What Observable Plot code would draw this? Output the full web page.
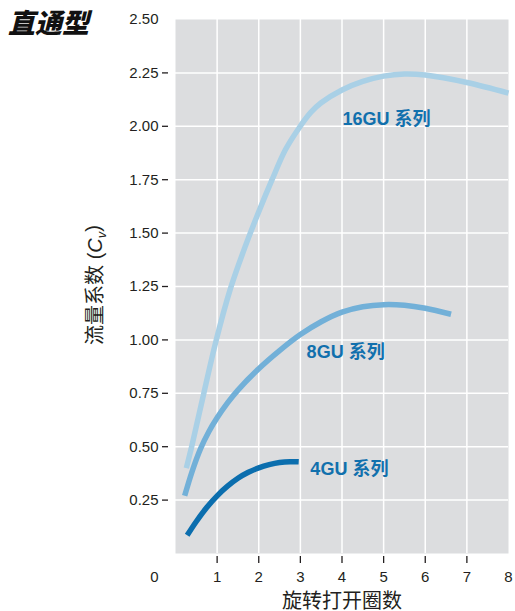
<!DOCTYPE html>
<html><head><meta charset="utf-8">
<script src="https://cdn.jsdelivr.net/npm/d3@7"></script>
<script src="https://cdn.jsdelivr.net/npm/@observablehq/plot@0.6"></script>
<style>
body{margin:0;background:#fff;font-family:"Liberation Sans","Noto Sans CJK SC",sans-serif;}
#wrap{position:relative;width:515px;height:611px;}
#title{position:absolute;left:8px;top:2px;font-style:italic;font-weight:900;font-size:27px;font-family:"Noto Sans CJK SC",sans-serif;color:#111;}
#wrap svg{position:absolute;left:0;top:0;}
</style></head><body><div id="wrap"><div id="title">直通型</div></div>
<script>
// Series data (turns open vs flow coefficient Cv)
const turns16 = [0.26,0.40,0.68,0.98,1.32,1.68,2.0,2.32,2.64,2.96,3.25,3.5,4.0,4.5,5.0,5.5,6.0,7.0,8.0];
const cv16    = [0.40,0.51,0.75,1.00,1.24,1.44,1.60,1.75,1.89,1.99,2.065,2.11,2.17,2.21,2.235,2.245,2.24,2.205,2.155];
const turns8  = [0.22,0.4,0.6,0.8,1.0,1.25,1.5,2.0,2.5,3.0,3.5,4.0,4.5,5.0,5.5,6.0,6.62];
const cv8     = [0.27,0.385,0.49,0.57,0.635,0.705,0.765,0.865,0.95,1.025,1.085,1.13,1.155,1.165,1.162,1.148,1.12];
const turns4  = [0.28,0.5,0.75,1.0,1.25,1.5,1.75,2.0,2.25,2.5,2.75,2.96];
const cv4     = [0.085,0.15,0.215,0.27,0.315,0.352,0.38,0.401,0.416,0.426,0.43,0.429];

const seriesNames = ["16GU 系列","8GU 系列","4GU 系列"];
const labelX = [4.01,3.15,3.24];
const labelY = [2.035,0.94,0.396];

const xTickMarks = [1,2,3,4,5,6,7];
const xTickLabels = [1,2,3,4,5,6,7,8];
const yTicks = [0.25,0.5,0.75,1.0,1.25,1.5,1.75,2.0,2.25];
const yTop = [2.5];
const xTitle = "旋转打开圈数";

const colors = ["#a9d0e6","#72b0d8","#0b6eae"];
const rows = [];
[[turns16,cv16],[turns8,cv8],[turns4,cv4]].forEach(([xs,ys],i)=>{
  xs.forEach((x,j)=>rows.push({series:seriesNames[i],x,y:ys[j]}));
});
const labels = seriesNames.map((s,i)=>({s,x:labelX[i],y:labelY[i]}));

const font = '"Liberation Sans","Noto Sans CJK SC",sans-serif';
const plot = Plot.plot({
  width:515, height:611,
  marginTop:19, marginBottom:58, marginLeft:175, marginRight:7,
  x:{domain:[0,8]}, y:{domain:[0,2.5]},
  color:{domain:seriesNames, range:colors},
  style:{fontFamily:font, fontSize:"15px", color:"#231f20", background:"transparent", overflow:"visible"},
  marks:[
    Plot.frame({fill:"#dcdddf", stroke:null}),
    Plot.gridX(xTickMarks,{stroke:"#fff",strokeOpacity:1,strokeWidth:1.5}),
    Plot.gridY(yTicks,{stroke:"#fff",strokeOpacity:1,strokeWidth:1.5}),
    Plot.axisY(yTicks,{tickSize:6,dx:-7,tickPadding:4,tickFormat:d=>d.toFixed(2),label:null,strokeWidth:1.3,stroke:"#231f20"}),
    Plot.axisY(yTop,{tickSize:0,dx:-7,tickPadding:10,tickFormat:d=>d.toFixed(2),label:null}),
    Plot.axisY([0],{tickSize:0,dx:-7,tickPadding:10,dy:24,tickFormat:()=>"0",label:null}),
    Plot.axisX(xTickMarks,{tickSize:7,dy:3,tickFormat:()=>"",label:null,strokeWidth:1.3,stroke:"#231f20"}),
    Plot.axisX(xTickLabels,{tickSize:0,tickPadding:18,label:null}),
    Plot.line(rows,{x:"x",y:"y",z:"series",stroke:"series",strokeWidth:5.5,curve:"catmull-rom",strokeLinecap:"butt"}),
    Plot.text(labels,{x:"x",y:"y",text:"s",textAnchor:"start",fontWeight:"bold",fontSize:18,fill:"#1170ad"}),
    Plot.text([xTitle],{frameAnchor:"bottom",lineAnchor:"middle",dy:48,fontSize:20,fill:"#231f20"})
  ]
});
const svg = d3.select(plot);
const t = svg.append("text")
  .attr("transform","translate(102,285) rotate(-90)")
  .attr("text-anchor","middle")
  .attr("font-size",20)
  .attr("font-family",font)
  .attr("fill","#231f20");
t.append("tspan").text("流量系数 (");
t.append("tspan").attr("font-style","italic").text("C");
t.append("tspan").attr("font-style","italic").attr("font-size",13).attr("dy","0.3em").text("v");
t.append("tspan").attr("dy","-0.3em").text(")");
document.getElementById("wrap").appendChild(plot);
</script>
</body></html>
